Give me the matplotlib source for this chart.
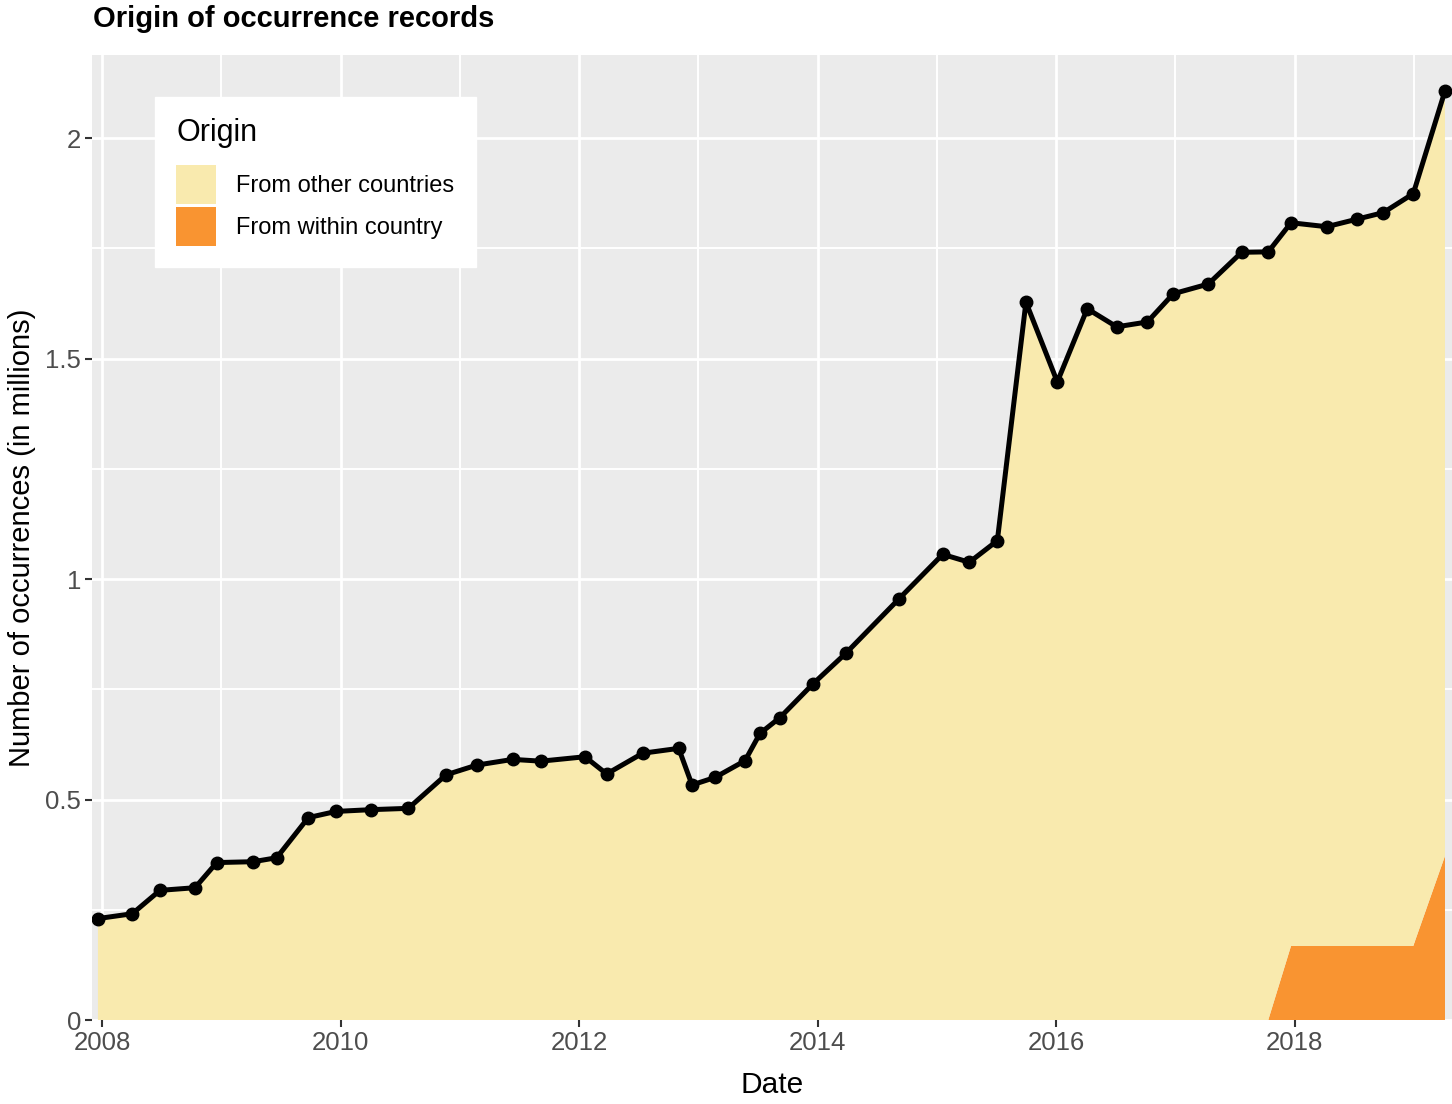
import matplotlib
matplotlib.use("Agg")
import matplotlib.pyplot as plt
from matplotlib.patches import Patch
import numpy as np

plt.rcParams['font.family'] = ['Liberation Sans', 'DejaVu Sans']

# Dates as decimal years
dates = [2007.966, 2008.254, 2008.486, 2008.780, 2008.962, 2009.269, 2009.465, 2009.730,
         2009.962, 2010.256, 2010.569, 2010.885, 2011.142, 2011.444, 2011.681, 2012.050,
         2012.232, 2012.534, 2012.836, 2012.948, 2013.140, 2013.392, 2013.518, 2013.686,
         2013.965, 2014.239, 2014.683, 2015.050, 2015.273, 2015.508, 2015.748, 2016.011,
         2016.262, 2016.509, 2016.766, 2016.984, 2017.277, 2017.557, 2017.780, 2017.971,
         2018.270, 2018.522, 2018.745, 2018.996, 2019.262]
# Total occurrences (millions)
total = [0.230, 0.241, 0.294, 0.300, 0.357, 0.359, 0.368, 0.459,
         0.473, 0.477, 0.480, 0.556, 0.578, 0.591, 0.587, 0.597,
         0.558, 0.605, 0.616, 0.533, 0.550, 0.588, 0.650, 0.686,
         0.763, 0.832, 0.955, 1.056, 1.038, 1.087, 1.628, 1.447,
         1.613, 1.572, 1.583, 1.647, 1.669, 1.741, 1.742, 1.808,
         1.799, 1.816, 1.831, 1.874, 2.107]
# From within country (millions)
within = [0]*39 + [0.168, 0.168, 0.168, 0.168, 0.168, 0.372]
other = [t - w for t, w in zip(total, within)]

series_labels = ["From other countries", "From within country"]
x_ticks = [2008, 2010, 2012, 2014, 2016, 2018]
y_ticks = [0, 0.5, 1, 1.5, 2]
y_tick_labels = ["0", "0.5", "1", "1.5", "2"]

c_other = "#F9EAAE"
c_within = "#F99431"

W, H = 1452, 1104
fig = plt.figure(figsize=(W/100, H/100), dpi=100)
ax = fig.add_axes([92/W, 1-1020/H, (1452-92)/W, (1020-55)/H])
ax.set_facecolor("#EBEBEB")

ax.stackplot(dates, within, other, colors=[c_within, c_other], linewidth=0, zorder=2)
ax.plot(dates, total, color="black", lw=3.6, marker="o", ms=9, zorder=3)

x0 = 2008 + (92-102)/119.25
x1 = 2008 + (1452-102)/119.25
ax.set_xlim(x0, x1)
ax.set_ylim(0, (1019-55)/440.5)

ax.set_xticks(x_ticks)
ax.set_xticklabels([str(v) for v in x_ticks])
ax.set_xticks([2009, 2011, 2013, 2015, 2017, 2019], minor=True)
ax.set_yticks(y_ticks)
ax.set_yticklabels(y_tick_labels)
ax.set_yticks([0.25, 0.75, 1.25, 1.75], minor=True)

ax.grid(which="major", color="white", lw=2.0, zorder=1)
ax.grid(which="minor", color="white", lw=1.4, zorder=1)
ax.set_axisbelow(True)
for s in ax.spines.values():
    s.set_visible(False)
ax.tick_params(which="major", length=5, width=1.5, color="#333333",
               labelsize=18.5, labelcolor="#4D4D4D", pad=3)
ax.tick_params(which="minor", length=0)

fig.text(93/W, 1-5/H, "Origin of occurrence records", ha="left", va="top",
         fontsize=21, fontweight="bold", color="black")
fig.text(772/W, 1-1085/H, "Date", ha="center", va="center", fontsize=21.5, color="black")
fig.text(22/W, 1-538/H, "Number of occurrences (in millions)", ha="center", va="center",
         rotation=90, fontsize=21, color="black")

handles = [Patch(facecolor=c_other, edgecolor="none"),
           Patch(facecolor=c_within, edgecolor="none")]
leg = ax.legend(handles, series_labels, title="Origin", loc="upper left",
                bbox_to_anchor=(155/W, 1-97/H), bbox_transform=fig.transFigure,
                fontsize=17, title_fontsize=22, frameon=True, fancybox=False,
                facecolor="white", edgecolor="white", framealpha=1,
                handlelength=1.7, handleheight=2.15, labelspacing=0.15,
                handletextpad=0.85, borderpad=0.9, borderaxespad=0)
leg._legend_box.align = "left"
leg._legend_box.sep = 12

fig.savefig("out.png", dpi=100)
